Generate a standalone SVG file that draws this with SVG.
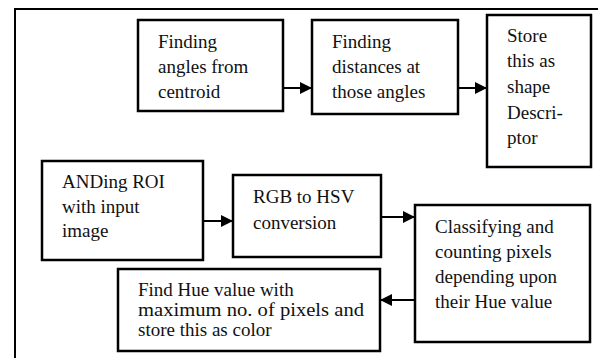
<svg xmlns="http://www.w3.org/2000/svg" width="598" height="358" viewBox="0 0 598 358">
  <style>
    .box { fill: #fff; stroke: #000; stroke-width: 2.5; }
    .frame { fill: none; stroke: #000; stroke-width: 2; }
    .edge { fill: none; stroke: #000; stroke-width: 2; }
    .lbl { font-size: 19px; fill: #111; }
  </style>
  <defs>
    <marker id="arrow" viewBox="0 0 10 10" refX="10" refY="5" markerWidth="6" markerHeight="6" orient="auto" markerUnits="strokeWidth">
      <path d="M0,0 L10,5 L0,10 Z" fill="#000"/>
    </marker>
  </defs>

  <rect width="598" height="358" fill="#fff"/>
  <!-- outer frame, open beyond the right and bottom edges -->
  <path class="frame" d="M15,360 V9 H600"/>

  <g font-family="'Liberation Serif', 'Times New Roman', 'DejaVu Serif', serif">
  <g id="angles">
    <rect class="box" x="138" y="20" width="145" height="91"/>
    <text class="lbl" x="158" y="48">Finding</text>
    <text class="lbl" x="158" y="73">angles from</text>
    <text class="lbl" x="158" y="98">centroid</text>
  </g>

  <g id="distances">
    <rect class="box" x="312" y="20" width="146" height="94"/>
    <text class="lbl" x="332" y="48">Finding</text>
    <text class="lbl" x="332" y="73">distances at</text>
    <text class="lbl" x="332" y="98">those angles</text>
  </g>

  <g id="shape-store">
    <rect class="box" x="487" y="15" width="104" height="152"/>
    <text class="lbl" x="507" y="42">Store</text>
    <text class="lbl" x="507" y="67">this as</text>
    <text class="lbl" x="507" y="93">shape</text>
    <text class="lbl" x="507" y="119">Descri-</text>
    <text class="lbl" x="507" y="144">ptor</text>
  </g>

  <g id="anding">
    <rect class="box" x="42" y="161" width="161" height="99"/>
    <text class="lbl" x="62" y="188">ANDing ROI</text>
    <text class="lbl" x="62" y="213">with input</text>
    <text class="lbl" x="62" y="237">image</text>
  </g>

  <g id="rgb-hsv">
    <rect class="box" x="233" y="175" width="148" height="82"/>
    <text class="lbl" x="253" y="203">RGB to HSV</text>
    <text class="lbl" x="253" y="229">conversion</text>
  </g>

  <g id="classify">
    <rect class="box" x="415" y="205" width="175" height="137"/>
    <text class="lbl" x="435" y="233">Classifying and</text>
    <text class="lbl" x="435" y="258">counting pixels</text>
    <text class="lbl" x="435" y="283">depending upon</text>
    <text class="lbl" x="435" y="308">their Hue value</text>
  </g>

  <g id="hue-color">
    <rect class="box" x="118" y="269" width="262" height="82"/>
    <text class="lbl" x="138" y="296">Find Hue value with</text>
    <text class="lbl" x="138" y="316" textLength="226" lengthAdjust="spacingAndGlyphs">maximum no. of pixels and</text>
    <text class="lbl" x="138" y="336">store this as color</text>
  </g>
  </g>

  <g id="connectors">
    <line class="edge" x1="283" y1="88" x2="312" y2="88" marker-end="url(#arrow)"/>
    <line class="edge" x1="458" y1="88" x2="487" y2="88" marker-end="url(#arrow)"/>
    <line class="edge" x1="203" y1="221" x2="233" y2="221" marker-end="url(#arrow)"/>
    <line class="edge" x1="381" y1="217" x2="415" y2="217" marker-end="url(#arrow)"/>
    <line class="edge" x1="415" y1="300" x2="380" y2="300" marker-end="url(#arrow)"/>
  </g>
</svg>
